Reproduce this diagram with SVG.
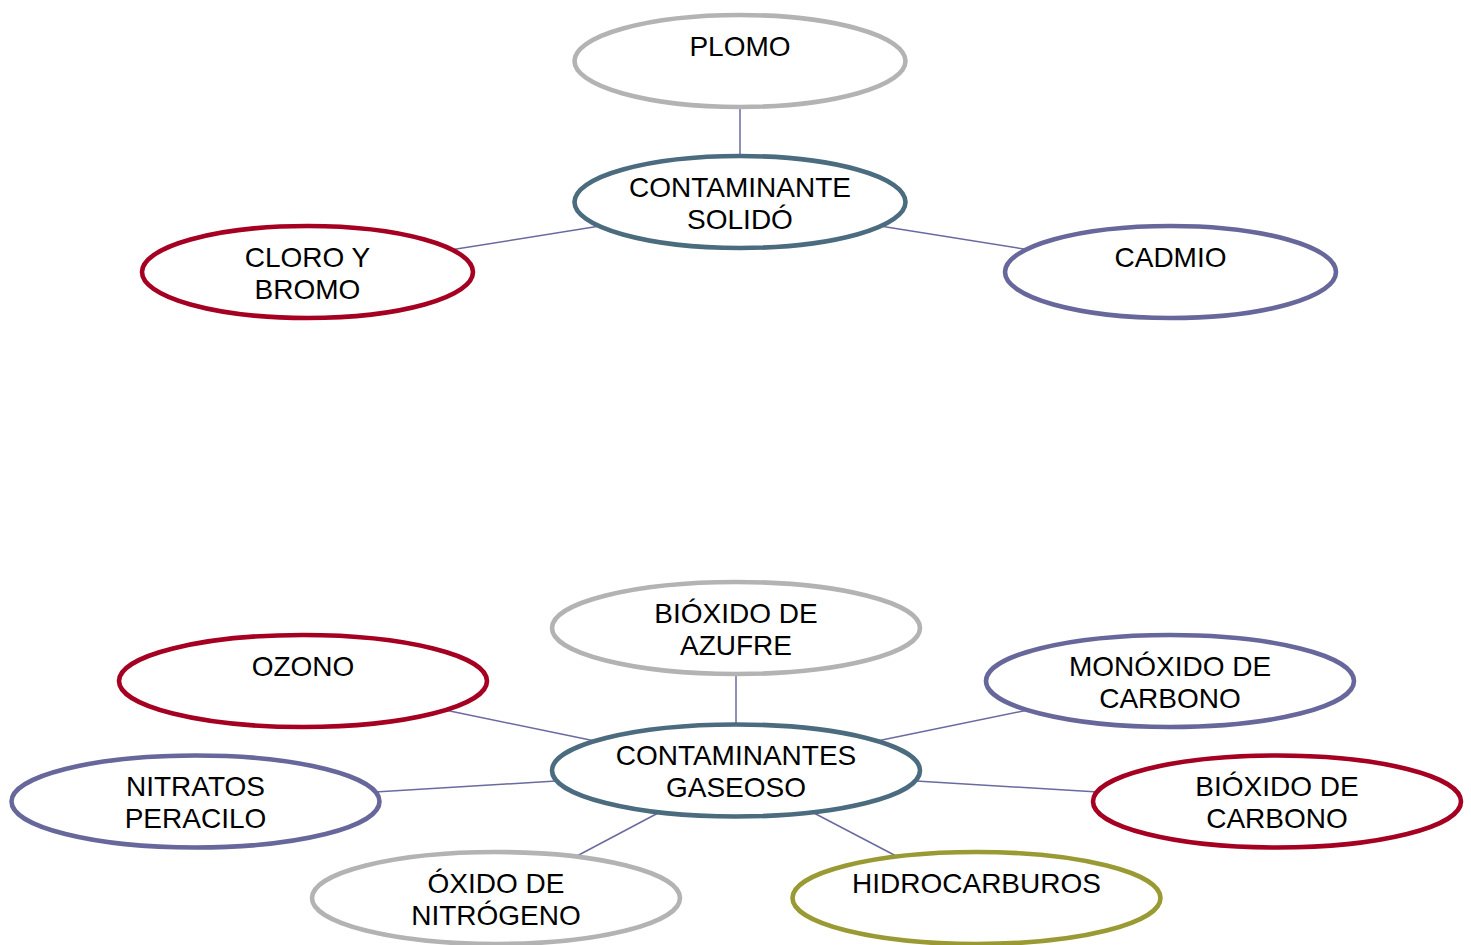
<svg xmlns="http://www.w3.org/2000/svg" width="1471" height="945" viewBox="0 0 1471 945">
<style>
.e{fill:#fff;stroke-width:4.6}
.g{stroke:#b3b3b3}.t{stroke:#4b6b7f}.r{stroke:#a50021}.p{stroke:#67679b}.o{stroke:#9a9a35}
text{font-family:"Liberation Sans",Arial,sans-serif;font-size:28px;fill:#000;text-anchor:middle}
#connectors line{stroke:#6a6aa0;stroke-width:1.5}
</style>
<rect width="1471" height="945" fill="#fff"/>
<g id="connectors">
<line x1="740" y1="106" x2="740" y2="157"/>
<line x1="600" y1="226" x2="450" y2="250"/>
<line x1="880" y1="226" x2="1030" y2="250"/>
<line x1="736" y1="673" x2="736" y2="725"/>
<line x1="445" y1="710" x2="595" y2="741"/>
<line x1="877" y1="741" x2="1028" y2="710"/>
<line x1="375" y1="792" x2="556" y2="781"/>
<line x1="916" y1="781" x2="1098" y2="792"/>
<line x1="575" y1="857" x2="660" y2="812"/>
<line x1="812" y1="812" x2="898" y2="857"/>
</g>
<g id="plomo"><ellipse class="e g" cx="740" cy="61" rx="165.5" ry="46"/><text x="740" y="56">PLOMO</text></g>
<g id="solido"><ellipse class="e t" cx="740" cy="202" rx="165.5" ry="46"/><text x="740" y="197">CONTAMINANTE</text><text x="740" y="229">SOLIDÓ</text></g>
<g id="cloro"><ellipse class="e r" cx="307.5" cy="272" rx="165.5" ry="46"/><text x="307.5" y="267">CLORO Y</text><text x="307.5" y="299">BROMO</text></g>
<g id="cadmio"><ellipse class="e p" cx="1170.5" cy="272" rx="165.5" ry="46"/><text x="1170.5" y="267">CADMIO</text></g>
<g id="azufre"><ellipse class="e g" cx="736" cy="628" rx="184" ry="46"/><text x="736" y="623">BIÓXIDO DE</text><text x="736" y="655">AZUFRE</text></g>
<g id="ozono"><ellipse class="e r" cx="303" cy="681" rx="184" ry="46"/><text x="303" y="676">OZONO</text></g>
<g id="monoxido"><ellipse class="e p" cx="1170" cy="681" rx="184" ry="46"/><text x="1170" y="676">MONÓXIDO DE</text><text x="1170" y="708">CARBONO</text></g>
<g id="gaseoso"><ellipse class="e t" cx="736" cy="770.5" rx="184" ry="46"/><text x="736" y="765">CONTAMINANTES</text><text x="736" y="797">GASEOSO</text></g>
<g id="nitratos"><ellipse class="e p" cx="195.5" cy="801.5" rx="184" ry="46"/><text x="195.5" y="796">NITRATOS</text><text x="195.5" y="828">PERACILO</text></g>
<g id="bioxido-carbono"><ellipse class="e r" cx="1277" cy="801.5" rx="184" ry="46"/><text x="1277" y="796">BIÓXIDO DE</text><text x="1277" y="828">CARBONO</text></g>
<g id="oxido-nitrogeno"><ellipse class="e g" cx="496" cy="898" rx="184" ry="46"/><text x="496" y="893">ÓXIDO DE</text><text x="496" y="925">NITRÓGENO</text></g>
<g id="hidrocarburos"><ellipse class="e o" cx="976.5" cy="898" rx="184" ry="46"/><text x="976.5" y="893">HIDROCARBUROS</text></g>
</svg>
